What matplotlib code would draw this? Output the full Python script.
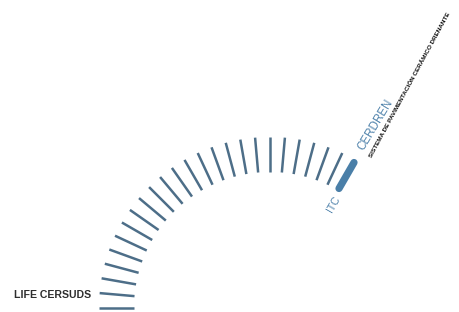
import matplotlib.pyplot as plt
import numpy as np

# tick angles (degrees) along the arc, left -> right
angles = [180, 175, 170, 165, 160, 155, 150, 145, 140, 135, 130, 125, 120,
          115, 110, 105, 100, 95, 90, 85, 80, 75, 70, 65, 60]
highlight = 60
left_label = "LIFE CERSUDS"
left_label_angle = 175
hl_inner = "ITC"
hl_outer = "CERDREN"
hl_sub = "SISTEMA DE PAVIMENTACIÓN CERÁMICO DRENANTE"

cx, cy = 270, 308
r_in, r_out = 136, 171

fam = ['Liberation Sans', 'DejaVu Sans']
fig = plt.figure(figsize=(4.59, 3.12), dpi=100)
ax = fig.add_axes([0, 0, 1, 1])
ax.set_xlim(0, 459)
ax.set_ylim(312, 0)
ax.axis('off')

for a in angles:
    t = np.radians(a)
    c, s = np.cos(t), np.sin(t)
    if a == highlight:
        ax.plot([cx + (r_in + 2) * c, cx + (r_out - 3) * c],
                [cy - (r_in + 2) * s, cy - (r_out - 3) * s],
                color='#4a7fa8', lw=5.2, solid_capstyle='round')
    else:
        ax.plot([cx + r_in * c, cx + r_out * c], [cy - r_in * s, cy - r_out * s],
                color='#4d6e88', lw=1.8, solid_capstyle='butt')

# left label
t = np.radians(left_label_angle)
ax.text(cx + (r_out + 9) * np.cos(t), cy - (r_out - 1) * np.sin(t) + 2, left_label,
        ha='right', va='center', fontsize=7.6, fontweight='bold', color='#2e2e2e',
        family=fam)

# highlight labels
t = np.radians(highlight)
c, s = np.cos(t), np.sin(t)
ax.text(cx + (r_in - 5) * c + 2, cy - (r_in - 5) * s + 3, hl_inner, ha='right', va='center',
        rotation=highlight, rotation_mode='anchor', fontsize=7.5, color='#4f82ab',
        family=fam)
ax.text(cx + (r_out + 10) * c, cy - (r_out + 10) * s - 2, hl_outer, ha='left',
        va='center', rotation=highlight - 1, rotation_mode='anchor', fontsize=8.3,
        color='#4f82ab', family=fam)
ax.text(cx + (r_out + 12) * c + 9, cy - (r_out + 12) * s + 8, hl_sub, ha='left',
        va='center', rotation=highlight + 1.5, rotation_mode='anchor', fontsize=4.6,
        fontweight='bold', color='#111111', family=fam)

fig.savefig('out.png', dpi=100, facecolor='white')
